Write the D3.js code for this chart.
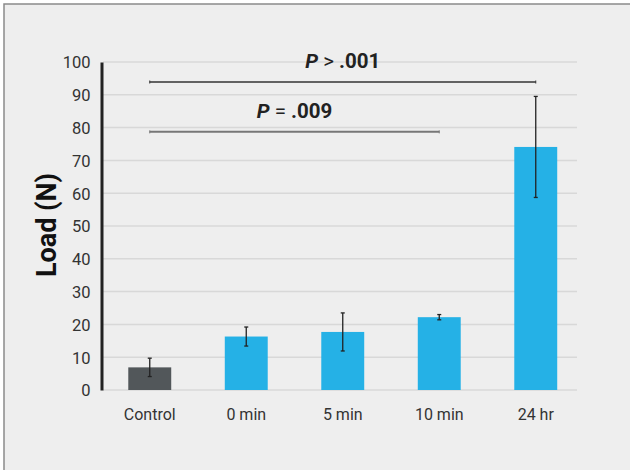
<!DOCTYPE html>
<html>
<head>
<meta charset="utf-8">
<script src="https://cdn.jsdelivr.net/npm/d3@7/dist/d3.min.js"></script>
<style>
  html, body { margin: 0; padding: 0; background: #ffffff; }
  svg { display: block; }
</style>
</head>
<body>
<svg id="chart" width="630" height="470"></svg>
<script>
// ---- data ----
const categories = ["Control", "0 min", "5 min", "10 min", "24 hr"];
const means = [6.9, 16.3, 17.7, 22.2, 74.1];
const errors = [2.8, 2.9, 5.8, 0.8, 15.4];
const yTicks = [0, 10, 20, 30, 40, 50, 60, 70, 80, 90, 100];
const sigFrom = ["Control", "Control"];
const sigTo = ["24 hr", "10 min"];
const sigLevel = [93.9, 78.7];
const sigOp = [">", "="];
const sigP = [".001", ".009"];

// ---- drawing ----
const svg = d3.select("#chart");
const font = "Roboto, 'Liberation Sans', sans-serif";

svg.append("rect").attr("x", 0).attr("y", 0).attr("width", 630).attr("height", 470).attr("fill", "#ffffff");
svg.append("rect").attr("x", 4).attr("y", 4).attr("width", 640).attr("height", 480)
  .attr("fill", "#eeeeee").attr("stroke", "#8a8a8a").attr("stroke-width", 1.5);

const x = d3.scaleBand().domain(categories).range([101.5, 584]).paddingInner(0.555).paddingOuter(0.2775);
const y = d3.scaleLinear().domain([0, 100]).range([390, 62]);

// gridlines
svg.append("g").selectAll("line").data(yTicks).join("line")
  .attr("x1", 103).attr("x2", 577)
  .attr("y1", d => y(d)).attr("y2", d => y(d))
  .attr("stroke", "#d8d8d8").attr("stroke-width", 1.5);

// y axis
const yAxis = d3.axisLeft(y).tickValues(yTicks).tickSize(0).tickPadding(11);
const gy = svg.append("g").attr("transform", "translate(101.5,0)").call(yAxis);
gy.select(".domain").attr("stroke", "#222").attr("stroke-width", 3);
gy.selectAll("text").attr("font-family", font).attr("font-size", 16.5).attr("fill", "#333").attr("dy", "0.36em");

// bars
svg.append("g").selectAll("rect").data(categories).join("rect")
  .attr("x", d => x(d)).attr("width", x.bandwidth())
  .attr("y", (d, i) => y(means[i])).attr("height", (d, i) => y(0) - y(means[i]))
  .attr("fill", (d, i) => i === 0 ? "#52575a" : "#25b1e6");

// error bars
const eb = svg.append("g").attr("stroke", "#222").attr("stroke-width", 1.3);
categories.forEach((c, i) => {
  const cx = x(c) + x.bandwidth() / 2;
  const top = y(means[i] + errors[i]), bot = y(means[i] - errors[i]);
  eb.append("line").attr("x1", cx).attr("x2", cx).attr("y1", top).attr("y2", bot);
  eb.append("line").attr("x1", cx - 2).attr("x2", cx + 2).attr("y1", top).attr("y2", top);
  eb.append("line").attr("x1", cx - 2).attr("x2", cx + 2).attr("y1", bot).attr("y2", bot);
});

// x axis labels
const xAxis = d3.axisBottom(x).tickSize(0).tickPadding(0);
const gx = svg.append("g").attr("transform", "translate(0,390)").call(xAxis);
gx.select(".domain").remove();
gx.selectAll("text").attr("font-family", font).attr("font-size", 16).attr("fill", "#333")
  .attr("y", 30).attr("dy", 0);

// y label
svg.append("text").attr("transform", "translate(56,225) rotate(-90)")
  .attr("text-anchor", "middle").attr("font-family", font).attr("font-weight", "bold")
  .attr("font-size", 27).attr("fill", "#111").text("Load (N)");

// significance brackets
const sigColors = ["#333", "#777"];
const sigWidths = [1.5, 2];
sigLevel.forEach((lv, i) => {
  const x1 = x(sigFrom[i]) + x.bandwidth() / 2;
  const x2 = x(sigTo[i]) + x.bandwidth() / 2;
  const yy = y(lv);
  const g = svg.append("g").attr("stroke", sigColors[i]).attr("stroke-width", sigWidths[i]);
  g.append("line").attr("x1", x1).attr("x2", x2).attr("y1", yy).attr("y2", yy);
  g.append("line").attr("x1", x1).attr("x2", x1).attr("y1", yy - 1.5).attr("y2", yy + 1.5).attr("stroke-width", 1);
  g.append("line").attr("x1", x2).attr("x2", x2).attr("y1", yy - 1.5).attr("y2", yy + 1.5).attr("stroke-width", 1);
  const t = svg.append("text").attr("x", (x1 + x2) / 2).attr("y", yy - 14)
    .attr("text-anchor", "middle").attr("font-family", font).attr("font-weight", "bold")
    .attr("font-size", 20.5).attr("fill", "#222");
  t.append("tspan").attr("font-style", "italic").text("P");
  t.append("tspan").attr("font-weight", "normal").text(" " + sigOp[i] + " ");
  t.append("tspan").text(sigP[i]);
});
</script>
</body>
</html>
